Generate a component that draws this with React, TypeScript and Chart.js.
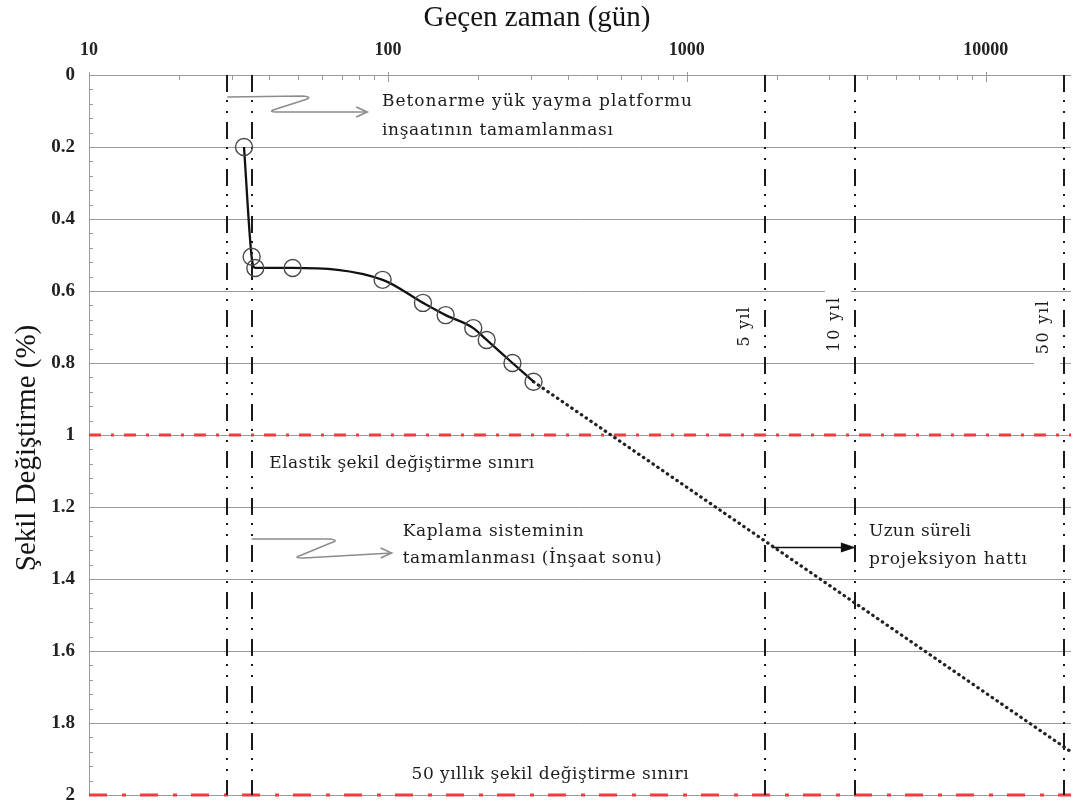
import React, { useEffect, useRef } from 'react';
import { Chart, registerables } from 'chart.js';

Chart.register(...registerables);

// ---- data ----
const elapsedDays = [33, 35, 36, 48, 96, 131, 156, 193, 214, 261, 307];
const strainPct = [0.2, 0.505, 0.536, 0.536, 0.569, 0.633, 0.667, 0.703, 0.736, 0.8, 0.852];
const projectionDays = [307, 19300];
const projectionStrain = [0.852, 1.88];

const xTickValues = [10, 100, 1000, 10000];
const xMin = 10;
const xMax = 19300;
const yMin = 0;
const yMax = 2;
const yStep = 0.2;
const yMinorStep = 0.04;

const eventDays = [29, 35];
const horizonYears = [5, 10, 50];
const horizonLabels = ['5 yıl', '10 yıl', '50 yıl'];
const limitStrains = [1, 2];
const limitLabels = ['Elastik şekil değiştirme sınırı', '50 yıllık şekil değiştirme sınırı'];

const xTitle = 'Geçen zaman (gün)';
const yTitle = 'Şekil Değiştirme (%)';

const SERIF = '"Liberation Serif", "Times New Roman", serif';
const NOTE = '"DejaVu Serif", serif';

// annotation texts: anchor (day, strain) = left / vertical centre; w = target width in px
const notes = [
  { text: 'Betonarme yük yayma platformu', day: 95.5, strain: 0.074, w: 310 },
  { text: 'inşaatının tamamlanması', day: 95.5, strain: 0.153, w: 231 },
  { text: limitLabels[0], day: 40.1, strain: 1.078, w: 265 },
  { text: 'Kaplama sisteminin', day: 112, strain: 1.267, w: 181 },
  { text: 'tamamlanması (İnşaat sonu)', day: 112, strain: 1.342, w: 259 },
  { text: 'Uzun süreli', day: 4070, strain: 1.269, w: 102 },
  { text: 'projeksiyon hattı', day: 4070, strain: 1.347, w: 158 },
  { text: limitLabels[1], day: 120, strain: 1.944, w: 277 },
];

function fitText(ctx: CanvasRenderingContext2D, text: string, x: number, y: number, size: number, width: number, family: string) {
  ctx.font = `${size}px ${family}`;
  (ctx as any).letterSpacing = '0px';
  const w = ctx.measureText(text).width;
  const n = Array.from(text).length;
  const ls = n > 1 ? (width - w) / (n - 1) : 0;
  (ctx as any).letterSpacing = `${ls}px`;
  ctx.fillText(text, x, y);
  (ctx as any).letterSpacing = '0px';
}

function zArrow(ctx: CanvasRenderingContext2D, ax: number, ay: number, p1: number[], p2: number[], p3: number[]) {
  ctx.beginPath();
  ctx.moveTo(ax, ay);
  ctx.lineTo(ax + p1[0] - 8, ay + p1[1]);
  ctx.quadraticCurveTo(ax + p1[0] + 4, ay + p1[1] + 1, ax + p1[0] - 6, ay + p1[1] + 4);
  ctx.lineTo(ax + p2[0] + 6, ay + p2[1] - 2);
  ctx.quadraticCurveTo(ax + p2[0] - 4, ay + p2[1] + 1, ax + p2[0] + 8, ay + p2[1] + 1);
  ctx.lineTo(ax + p3[0], ay + p3[1]);
  ctx.stroke();
  ctx.beginPath();
  ctx.moveTo(ax + p3[0] - 11, ay + p3[1] - 5);
  ctx.lineTo(ax + p3[0], ay + p3[1]);
  ctx.lineTo(ax + p3[0] - 11, ay + p3[1] + 5);
  ctx.stroke();
}

const decorPlugin = {
  id: 'decor',
  beforeDatasetsDraw(chart: any) {
    const { ctx, chartArea: ca, scales } = chart;
    const x = scales.x;
    const y = scales.y;
    ctx.save();

    // minor ticks (left)
    ctx.strokeStyle = '#9a9a9a';
    ctx.lineWidth = 1;
    const nMinor = Math.round((yMax - yMin) / yMinorStep);
    const per = Math.round(yStep / yMinorStep);
    for (let i = 1; i < nMinor; i++) {
      if (i % per === 0) continue;
      const py = Math.round(y.getPixelForValue(yMin + i * yMinorStep)) + 0.5;
      ctx.beginPath();
      ctx.moveTo(ca.left, py);
      ctx.lineTo(ca.left + 4, py);
      ctx.stroke();
    }
    // minor ticks (top, log)
    for (const d of xTickValues) {
      for (let m = 1; m <= 9; m++) {
        const v = d * m;
        if (v > xMax) break;
        const px = Math.round(x.getPixelForValue(v)) + 0.5;
        ctx.beginPath();
        ctx.moveTo(px, ca.top - (m === 1 ? 3 : 0));
        ctx.lineTo(px, ca.top + (m === 1 ? 7 : 5));
        ctx.stroke();
      }
    }

    // limit lines (red dash-dot)
    const redDash = [[12, 10, 3, 10], [18, 15, 4, 14]];
    limitStrains.forEach((s, i) => {
      const py = y.getPixelForValue(s);
      ctx.strokeStyle = '#f03c3c';
      ctx.lineWidth = 3;
      ctx.setLineDash(redDash[i]);
      ctx.beginPath();
      ctx.moveTo(ca.left, py);
      ctx.lineTo(ca.right, py);
      ctx.stroke();
    });

    // vertical dash-dot-dot lines
    const vDays = [...eventDays, ...horizonYears.map((yr) => yr * 365)];
    ctx.strokeStyle = '#1a1a1a';
    ctx.lineWidth = 2;
    ctx.setLineDash([17, 8, 2, 9, 2, 9]);
    vDays.forEach((d) => {
      const px = Math.round(x.getPixelForValue(d));
      ctx.beginPath();
      ctx.moveTo(px, ca.top);
      ctx.lineTo(px, ca.bottom);
      ctx.stroke();
    });
    ctx.setLineDash([]);

    // horizon labels (rotated), with white backing boxes for 10 and 50 years
    const lens = [39, 54, 53];
    const centres = [0.7, 0.694, 0.702];
    const boxes = [null, [0.588, 0.79], [0.612, 0.814]];
    horizonYears.forEach((yr, i) => {
      const px = x.getPixelForValue(yr * 365);
      const cy = y.getPixelForValue(centres[i]);
      const b = boxes[i];
      if (b) {
        const top = y.getPixelForValue(b[0]);
        const bot = y.getPixelForValue(b[1]);
        ctx.fillStyle = '#ffffff';
        ctx.fillRect(px - 30, top, 26, bot - top);
      }
      ctx.save();
      ctx.translate(px - 20, cy);
      ctx.rotate(-Math.PI / 2);
      ctx.fillStyle = '#1c1c1c';
      ctx.textBaseline = 'middle';
      ctx.textAlign = 'left';
      fitText(ctx, horizonLabels[i], -lens[i] / 2, 0, 16, lens[i], NOTE);
      ctx.restore();
    });

    // notes
    ctx.fillStyle = '#1c1c1c';
    ctx.textBaseline = 'middle';
    ctx.textAlign = 'left';
    notes.forEach((n) => {
      fitText(ctx, n.text, x.getPixelForValue(n.day), y.getPixelForValue(n.strain), 17, n.w, NOTE);
    });

    // grey Z arrows
    ctx.strokeStyle = '#8c8c8c';
    ctx.lineWidth = 1.6;
    zArrow(ctx, x.getPixelForValue(eventDays[0]), y.getPixelForValue(0.061), [83, -1], [43, 14], [140, 15]);
    zArrow(ctx, x.getPixelForValue(eventDays[1]), y.getPixelForValue(1.289), [85, 0], [44, 18], [140, 14]);

    // projection arrow between 5 and 10 years
    const ay = Math.round(y.getPixelForValue(1.311)) + 0.5;
    const x5 = x.getPixelForValue(horizonYears[0] * 365);
    const x10 = x.getPixelForValue(horizonYears[1] * 365);
    ctx.strokeStyle = '#111';
    ctx.fillStyle = '#111';
    ctx.lineWidth = 1.6;
    ctx.beginPath();
    ctx.moveTo(x5 + 7, ay);
    ctx.lineTo(x10 - 12, ay);
    ctx.stroke();
    ctx.beginPath();
    ctx.moveTo(x10 - 14, ay - 5);
    ctx.lineTo(x10 + 1, ay);
    ctx.lineTo(x10 - 14, ay + 5);
    ctx.closePath();
    ctx.fill();

    // axis titles
    ctx.fillStyle = '#141414';
    ctx.textAlign = 'center';
    ctx.textBaseline = 'middle';
    ctx.font = `29px ${SERIF}`;
    ctx.fillText(xTitle, 537, 18);
    ctx.save();
    ctx.translate(27, 448);
    ctx.rotate(-Math.PI / 2);
    ctx.fillText(yTitle, 0, 0);
    ctx.restore();

    ctx.restore();
  },
};

export default function App() {
  const ref = useRef<HTMLCanvasElement>(null);
  useEffect(() => {
    document.body.style.margin = '0';
    const canvas = ref.current!;
    const chart = new Chart(canvas, {
      type: 'line',
      data: {
        datasets: [
          {
            label: 'Ölçülen',
            data: elapsedDays.map((d, i) => ({ x: d, y: strainPct[i] })),
            borderColor: '#111',
            borderWidth: 2.3,
            pointRadius: 8.5,
            pointHoverRadius: 8.5,
            pointBorderColor: '#4a4a4a',
            pointBorderWidth: 1.4,
            pointBackgroundColor: 'rgba(0,0,0,0)',
            cubicInterpolationMode: 'monotone',
            order: 1,
          },
          {
            label: 'Projeksiyon',
            data: projectionDays.map((d, i) => ({ x: d, y: projectionStrain[i] })),
            borderColor: '#222',
            borderWidth: 3.2,
            borderDash: [0.5, 5.3],
            borderCapStyle: 'round',
            pointRadius: 0,
            order: 2,
          },
        ],
      },
      options: {
        animation: false,
        responsive: false,
        devicePixelRatio: 1,
        layout: { padding: { left: 0, right: 0, top: 0, bottom: 12 } },
        plugins: { legend: { display: false }, tooltip: { enabled: false } },
        events: [],
        scales: {
          x: {
            type: 'logarithmic',
            position: 'top',
            min: xMin,
            max: xMax,
            afterBuildTicks: (s: any) => {
              s.ticks = xTickValues.map((v) => ({ value: v, major: true }));
            },
            afterFit: (s: any) => {
              s.height = 75;
              s.paddingLeft = 0;
              s.paddingRight = 0;
            },
            grid: { display: false, drawTicks: false },
            border: { display: false },
            ticks: {
              autoSkip: false,
              maxRotation: 0,
              padding: 14,
              color: '#222',
              font: { family: SERIF, size: 18, weight: 'bold' },
              callback: (v: any) => String(v),
            },
          },
          y: {
            type: 'linear',
            reverse: true,
            min: yMin,
            max: yMax,
            afterFit: (s: any) => {
              s.width = 89;
              s.paddingTop = 0;
              s.paddingBottom = 0;
            },
            grid: { color: '#9a9a9a', lineWidth: 1, drawTicks: false },
            border: { display: true, color: '#9a9a9a', width: 1 },
            ticks: {
              stepSize: yStep,
              padding: 14,
              color: '#222',
              font: { family: SERIF, size: 19, weight: 'bold' },
              callback: (v: any) => String(Math.round(Number(v) * 10) / 10),
            },
          },
        },
      },
      plugins: [decorPlugin],
    } as any);
    return () => chart.destroy();
  }, []);
  return (
    <div style={{ width: 1081, height: 807, background: '#fff' }}>
      <canvas ref={ref} width={1081} height={807} style={{ display: 'block' }} />
    </div>
  );
}
